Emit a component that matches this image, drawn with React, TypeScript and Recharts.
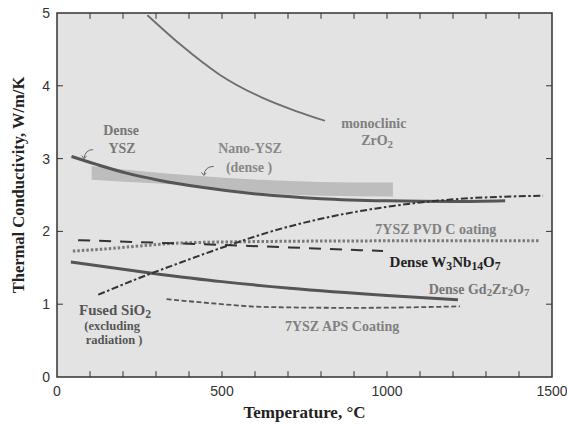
import React from 'react';
import {
  ComposedChart,
  Line,
  Area,
  XAxis,
  YAxis,
  ReferenceArea,
  ReferenceLine,
  ReferenceDot,
  Label,
} from 'recharts';

// temperature (°C) / conductivity (W/m/K)
const monoclinicT = [274, 373, 494, 625, 726, 812];
const monoclinicK = [4.97, 4.57, 4.15, 3.83, 3.65, 3.52];

const denseYszT = [44, 120, 211, 312, 433, 615, 800, 1000, 1200, 1358];
const denseYszK = [3.03, 2.92, 2.8, 2.7, 2.61, 2.51, 2.45, 2.42, 2.41, 2.42];

const nanoYszT = [105, 250, 433, 615, 800, 1018];
const nanoYszLow = [2.71, 2.67, 2.62, 2.53, 2.49, 2.48];
const nanoYszHigh = [2.9, 2.83, 2.76, 2.71, 2.68, 2.67];

const sio2T = [125, 272, 373, 534, 650, 777, 1019, 1200, 1473];
const sio2K = [1.13, 1.4, 1.57, 1.83, 2.0, 2.15, 2.35, 2.44, 2.49];

const pvdT = [48, 150, 250, 373, 600, 1000, 1460];
const pvdK = [1.73, 1.76, 1.8, 1.84, 1.86, 1.87, 1.87];

const wnbT = [64, 585, 988];
const wnbK = [1.88, 1.8, 1.73];

const gdzT = [42, 282, 500, 706, 1000, 1215];
const gdzK = [1.58, 1.43, 1.31, 1.22, 1.12, 1.06];

const apsT = [332, 450, 645, 900, 1221];
const apsK = [1.07, 1.02, 0.96, 0.95, 0.97];

const xTicks = [0, 500, 1000, 1500];
const yTicks = [0, 1, 2, 3, 4, 5];
const xMinor = [100, 200, 300, 400, 500, 600, 700, 800, 900, 1000, 1100, 1200, 1300, 1400];
const yMinor = [1, 2, 3, 4];

const pts = (t: number[], k: number[]) => t.map((x, i) => ({ t: x, k: k[i] }));
const bandPts = nanoYszT.map((x, i) => ({ t: x, range: [nanoYszLow[i], nanoYszHigh[i]] }));

const notes = [
  { t: 194, k: 3.39, text: 'Dense', color: '#777', size: 14 },
  { t: 197, k: 3.14, text: 'YSZ', color: '#777', size: 14 },
  { t: 585, k: 3.14, text: 'Nano-YSZ', color: '#888', size: 14 },
  { t: 582, k: 2.88, text: '(dense )', color: '#888', size: 14 },
  { t: 960, k: 3.49, text: 'monoclinic', color: '#808080', size: 14 },
  { t: 970, k: 3.25, text: 'ZrO_2', color: '#808080', size: 14 },
  { t: 1148, k: 2.03, text: '7YSZ PVD C oating', color: '#808080', size: 14 },
  { t: 1176, k: 1.58, text: 'Dense W_3Nb_14O_7', color: '#222', size: 15 },
  { t: 1279, k: 1.21, text: 'Dense  Gd_2Zr_2O_7', color: '#777', size: 14 },
  { t: 864, k: 0.7, text: '7YSZ APS  Coating', color: '#808080', size: 14 },
  { t: 176, k: 0.92, text: 'Fused  SiO_2', color: '#555', size: 15 },
  { t: 167, k: 0.7, text: '(excluding', color: '#555', size: 12.5 },
  { t: 173, k: 0.51, text: 'radiation )', color: '#555', size: 12.5 },
];

const arrows = [
  { t: 82, k: 3.0, dx: 9, dy: -9 },
  { t: 445, k: 2.77, dx: 10, dy: -9 },
];

function RichText({ text, size }: { text: string; size: number }) {
  const parts = text.split(/(_\d+)/).filter((s) => s.length);
  let shifted = false;
  return (
    <>
      {parts.map((p, i) => {
        if (p.startsWith('_')) {
          const dy = shifted ? 0 : size * 0.25;
          shifted = true;
          return (
            <tspan key={i} dy={dy} fontSize={size * 0.78}>
              {p.slice(1)}
            </tspan>
          );
        }
        const dy = shifted ? -size * 0.25 : 0;
        shifted = false;
        return (
          <tspan key={i} dy={dy} fontSize={size}>
            {p}
          </tspan>
        );
      })}
    </>
  );
}

export default function App() {
  return (
    <div style={{ position: 'absolute', left: 0, top: 0, background: '#fff' }}>
      <ComposedChart width={567} height={426} margin={{ top: 13, right: 15, bottom: 0, left: 0 }}>
        <ReferenceArea
          x1={0}
          x2={1500}
          y1={0}
          y2={5}
          fill="#e3e3e3"
          fillOpacity={1}
          stroke="#333"
          strokeWidth={1.5}
        />
        <XAxis
          type="number"
          dataKey="t"
          domain={[0, 1500]}
          ticks={xTicks}
          allowDataOverflow
          height={49}
          axisLine={false}
          tickLine={false}
          tickSize={0}
          tickMargin={9}
          tick={{ fill: '#333', fontSize: 14, fontFamily: 'Liberation Sans, Arial, sans-serif' }}
        >
          <Label
            content={({ viewBox }: any) => (
              <text
                x={viewBox.x + viewBox.width / 2}
                y={viewBox.y + 41}
                textAnchor="middle"
                fontFamily="Liberation Serif, Times New Roman, serif"
                fontWeight="bold"
                fontSize={17}
                fill="#222"
              >
                Temperature, °C
              </text>
            )}
          />
        </XAxis>
        <YAxis
          type="number"
          domain={[0, 5]}
          ticks={yTicks}
          allowDataOverflow
          width={57}
          axisLine={false}
          tickLine={false}
          tickSize={0}
          tickMargin={7}
          tick={{ fill: '#333', fontSize: 14, fontFamily: 'Liberation Sans, Arial, sans-serif' }}
        >
          <Label
            content={({ viewBox }: any) => {
              const cx = 18;
              const cy = viewBox.y + viewBox.height / 2 - 10;
              return (
                <text
                  x={cx}
                  y={cy}
                  transform={`rotate(-90 ${cx} ${cy})`}
                  textAnchor="middle"
                  dominantBaseline="central"
                  fontFamily="Liberation Serif, Times New Roman, serif"
                  fontWeight="bold"
                  fontSize={16.5}
                  fill="#222"
                >
                  Thermal Conductivity, W/m/K
                </text>
              );
            }}
          />
        </YAxis>

        {xMinor.map((v) => (
          <ReferenceLine key={`xb${v}`} segment={[{ x: v, y: 0 }, { x: v, y: 0.08 }]} stroke="#333" strokeWidth={1} />
        ))}
        {xMinor.map((v) => (
          <ReferenceLine key={`xt${v}`} segment={[{ x: v, y: 5 }, { x: v, y: 4.92 }]} stroke="#333" strokeWidth={1} />
        ))}
        {yMinor.map((v) => (
          <ReferenceLine key={`yl${v}`} segment={[{ x: 0, y: v }, { x: 18, y: v }]} stroke="#333" strokeWidth={1} />
        ))}
        {yMinor.map((v) => (
          <ReferenceLine key={`yr${v}`} segment={[{ x: 1500, y: v }, { x: 1482, y: v }]} stroke="#333" strokeWidth={1} />
        ))}

        <Area
          data={bandPts}
          dataKey="range"
          type="monotone"
          stroke="none"
          fill="#bdbdbd"
          fillOpacity={1}
          isAnimationActive={false}
        />
        <Line data={pts(monoclinicT, monoclinicK)} dataKey="k" type="monotone" stroke="#6e6e6e" strokeWidth={1.8} dot={false} isAnimationActive={false} />
        <Line data={pts(pvdT, pvdK)} dataKey="k" type="monotone" stroke="#7a7a7a" strokeWidth={3} strokeDasharray="2.5 2" dot={false} isAnimationActive={false} />
        <Line data={pts(wnbT, wnbK)} dataKey="k" type="monotone" stroke="#333" strokeWidth={2} strokeDasharray="12 9" dot={false} isAnimationActive={false} />
        <Line data={pts(gdzT, gdzK)} dataKey="k" type="monotone" stroke="#555" strokeWidth={3} dot={false} isAnimationActive={false} />
        <Line data={pts(apsT, apsK)} dataKey="k" type="monotone" stroke="#555" strokeWidth={1.8} strokeDasharray="5 2.5" dot={false} isAnimationActive={false} />
        <Line data={pts(denseYszT, denseYszK)} dataKey="k" type="monotone" stroke="#555" strokeWidth={3} dot={false} isAnimationActive={false} />
        <Line data={pts(sio2T, sio2K)} dataKey="k" type="monotone" stroke="#333" strokeWidth={2} strokeDasharray="7 2.5 2.5 2.5" dot={false} isAnimationActive={false} />

        {arrows.map((a, i) => (
          <ReferenceDot
            key={`a${i}`}
            x={a.t}
            y={a.k}
            r={0}
            shape={({ cx, cy }: any) => (
              <g stroke="#666" fill="none" strokeWidth={1}>
                <path d={`M${cx + a.dx},${cy + a.dy} Q${cx + 1},${cy + a.dy} ${cx},${cy}`} />
                <path d={`M${cx - 2.5},${cy - 3} L${cx},${cy} L${cx + 2.5},${cy - 2.5}`} />
              </g>
            )}
          />
        ))}

        {notes.map((n, i) => (
          <ReferenceDot
            key={`n${i}`}
            x={n.t}
            y={n.k}
            r={0}
            shape={({ cx, cy }: any) => (
              <text
                x={cx}
                y={cy}
                textAnchor="middle"
                dominantBaseline="central"
                fontFamily="Liberation Serif, Times New Roman, serif"
                fontWeight="bold"
                fill={n.color}
              >
                <RichText text={n.text} size={n.size ?? 13.5} />
              </text>
            )}
          />
        ))}
      </ComposedChart>
    </div>
  );
}
